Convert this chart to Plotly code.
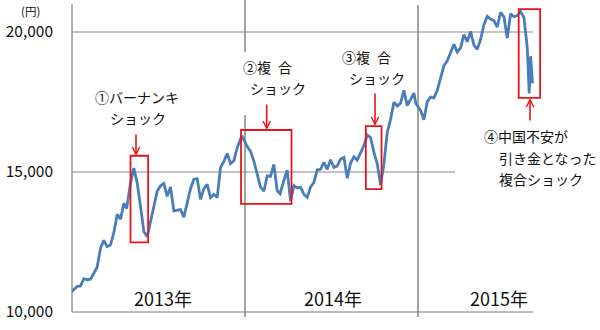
import pandas as pd
import plotly.graph_objects as go

# ---------------- data (weekly closes, yen) ----------------
dates_2013 = ["2013-01-04","2013-01-11","2013-01-18","2013-01-25","2013-02-01","2013-02-08","2013-02-15","2013-02-22",
              "2013-03-01","2013-03-08","2013-03-15","2013-03-22","2013-03-29","2013-04-05","2013-04-12","2013-04-19",
              "2013-04-26","2013-05-02","2013-05-10","2013-05-17","2013-05-24","2013-05-31","2013-06-07","2013-06-14",
              "2013-06-21","2013-06-28","2013-07-05","2013-07-12","2013-07-19","2013-07-26","2013-08-02","2013-08-09",
              "2013-08-16","2013-08-23","2013-08-30","2013-09-06","2013-09-13","2013-09-20","2013-09-27","2013-10-04",
              "2013-10-11","2013-10-18","2013-10-25","2013-11-01","2013-11-08","2013-11-15","2013-11-22","2013-11-29",
              "2013-12-06","2013-12-13","2013-12-20","2013-12-27","2013-12-30"]
close_2013 = [10688, 10801, 10913, 10926, 11191, 11153, 11173, 11385, 11606, 12283, 12560, 12338, 12397,
              12833, 13485, 13316, 13884, 13694, 14607, 15138, 14612, 13774, 12877, 12686, 13230, 13677,
              14309, 14506, 14589, 14129, 14466, 13615, 13650, 13660, 13389, 13861, 14404, 14742, 14760,
              14024, 14404, 14561, 14088, 14201, 14086, 15165, 15381, 15662, 15299, 15403, 15870, 16178, 16291]

dates_2014 = ["2014-01-10","2014-01-17","2014-01-24","2014-01-31","2014-02-07","2014-02-14","2014-02-21","2014-02-28",
              "2014-03-07","2014-03-14","2014-03-20","2014-03-28","2014-04-04","2014-04-11","2014-04-18","2014-04-25",
              "2014-05-02","2014-05-09","2014-05-16","2014-05-23","2014-05-30","2014-06-06","2014-06-13","2014-06-20",
              "2014-06-27","2014-07-04","2014-07-11","2014-07-18","2014-07-25","2014-08-01","2014-08-08","2014-08-15",
              "2014-08-22","2014-08-29","2014-09-05","2014-09-12","2014-09-19","2014-09-26","2014-10-03","2014-10-10",
              "2014-10-17","2014-10-24","2014-10-31","2014-11-07","2014-11-14","2014-11-21","2014-11-28","2014-12-05",
              "2014-12-12","2014-12-19","2014-12-26","2014-12-30"]
close_2014 = [15912, 15734, 15391, 14914, 14462, 14313, 14865, 14841, 15274, 14327, 14224, 14696, 15063,
              13960, 14516, 14429, 14457, 14199, 14097, 14462, 14632, 15077, 15097, 15349, 15095, 15437,
              15164, 15215, 15457, 15523, 14778, 15318, 15539, 15424, 15668, 15948, 16321, 16229, 15708,
              15300, 14532, 15291, 16413, 16880, 17490, 17357, 17459, 17920, 17371, 17621, 17818, 17450]

dates_2015 = ["2015-01-09","2015-01-16","2015-01-23","2015-01-30","2015-02-06","2015-02-13","2015-02-20","2015-02-27",
              "2015-03-06","2015-03-13","2015-03-20","2015-03-27","2015-04-03","2015-04-10","2015-04-17","2015-04-24",
              "2015-05-01","2015-05-08","2015-05-15","2015-05-22","2015-05-29","2015-06-05","2015-06-12","2015-06-19",
              "2015-06-26","2015-07-03","2015-07-10","2015-07-17","2015-07-24","2015-07-31","2015-08-07","2015-08-14",
              "2015-08-21","2015-08-25","2015-08-28","2015-09-01"]
close_2015 = [17197, 16864, 17511, 17674, 17648, 17913, 18332, 18798, 18971, 19254, 19560, 19286, 19435,
              19908, 19653, 20020, 19532, 19379, 19733, 20264, 20563, 20461, 20407, 20174, 20706, 20540,
              19780, 20651, 20545, 20585, 20725, 20519, 19436, 17807, 19136, 18166]

tick_vals = [10000, 15000, 20000]
tick_text = ["10,000", "15,000", "20,000"]
year_labels = ["2013年", "2014年", "2015年"]

dates = pd.to_datetime(dates_2013 + dates_2014 + dates_2015)
close = close_2013 + close_2014 + close_2015

# ---------------- pixel geometry helpers ----------------
W, H = 600, 330
ML = 72
PW = W - ML
ORIGIN = pd.Timestamp("2013-01-04")
ORIGIN_PX = 70.5
PPD = 0.4763          # pixels per day


def px_date(px):
    return ORIGIN + pd.Timedelta(days=(px - ORIGIN_PX) / PPD)


def py_val(py):
    return 20000 - (py - 32) / 28.0 * 1000


def pxp(px):
    return (px - ML) / PW


def pyp(py):
    return 1 - py / H


FONT = "Noto Sans CJK JP"
RED = "#e8141c"
GRID = "#8a8a8a"

fig = go.Figure()
fig.add_trace(go.Scatter(x=dates, y=close, mode="lines",
                         line=dict(color="#4a7ebb", width=2.8), hoverinfo="skip"))

shapes = []
# horizontal grid / axis lines
shapes.append(dict(type="line", xref="paper", yref="y", x0=0, x1=pxp(533), y0=20000, y1=20000,
                   line=dict(color=GRID, width=1.2), layer="below"))
shapes.append(dict(type="line", xref="paper", yref="y", x0=0, x1=pxp(455), y0=15000, y1=15000,
                   line=dict(color=GRID, width=1.2), layer="below"))
shapes.append(dict(type="line", xref="paper", yref="y", x0=0, x1=pxp(533), y0=10000, y1=10000,
                   line=dict(color="#bdbdbd", width=2), layer="below"))
# left axis
shapes.append(dict(type="line", xref="paper", yref="y", x0=0, x1=0, y0=10000, y1=py_val(4),
                   line=dict(color="#7f7f7f", width=1.2), layer="below"))
# year dividers
for seg in [(0, 52), (115, 317)]:
    shapes.append(dict(type="line", xref="paper", yref="y", x0=pxp(245), x1=pxp(245),
                       y0=py_val(seg[0]), y1=py_val(seg[1]), line=dict(color="#6b6b5e", width=1.2), layer="below"))
shapes.append(dict(type="line", xref="paper", yref="y", x0=pxp(418), x1=pxp(418),
                   y0=py_val(5), y1=py_val(317), line=dict(color="#6b6b5e", width=1.2), layer="below"))

# red highlight boxes (date ranges / price ranges)
boxes = [("2013-05-10", "2013-06-16", 12490, 15580),
         ("2013-12-28", "2014-04-13", 13860, 16500),
         ("2014-09-16", "2014-10-19", 14390, 16640),
         ("2015-08-03", "2015-09-17", 17650, 20820)]
for x0, x1, y0, y1 in boxes:
    shapes.append(dict(type="rect", xref="x", yref="y", x0=x0, x1=x1, y0=y0, y1=y1,
                       line=dict(color=RED, width=1.8), fillcolor="rgba(0,0,0,0)"))

annotations = []


def txt(s, px, py, size=14, xanchor="center"):
    annotations.append(dict(text=s, x=pxp(px), y=pyp(py), xref="paper", yref="paper",
                            xanchor=xanchor, yanchor="middle", showarrow=False,
                            font=dict(family=FONT, size=size, color="#111111")))


def arrow(px, py_tail, py_tip):
    annotations.append(dict(text="", x=px_date(px), y=py_val(py_tip), xref="x", yref="y",
                            ax=0, ay=py_tail - py_tip, showarrow=True, arrowhead=5,
                            arrowsize=0.9, arrowwidth=1.6, arrowcolor=RED, standoff=0))


txt("(円)", 30, 11, size=11.5)
txt("①バーナンキ", 137, 97.5)
txt("ショック", 137.5, 118)
txt("②複\u2002合", 267, 67)
txt("ショック", 277.5, 88)
txt("③複\u2002合", 366, 57)
txt("ショック", 377, 77.5)
txt("④中国不安が", 482, 136.5, xanchor="left")
txt("引き金となった", 497, 158, xanchor="left")
txt("複合ショック", 497, 178.5, xanchor="left")

for lab, cx in zip(year_labels, [162.5, 333, 499]):
    txt(lab, cx, 298, size=18)

arrow(136, 133, 156)
arrow(266.7, 103, 130)
arrow(375, 92, 126)
arrow(530, 122, 98)

fig.update_layout(
    width=W, height=H,
    margin=dict(l=ML, r=0, t=0, b=0),
    paper_bgcolor="white", plot_bgcolor="white",
    showlegend=False,
    shapes=shapes, annotations=annotations,
    xaxis=dict(type="date", range=[px_date(ML), px_date(W)], visible=False, fixedrange=True),
    yaxis=dict(range=[py_val(H), py_val(0)], showgrid=False, zeroline=False, showline=False,
               tickvals=tick_vals, ticktext=tick_text, ticks="", ticklabelstandoff=18,
               tickfont=dict(family=FONT, size=15.5, color="#111111"), fixedrange=True),
)

fig.write_html("out.html")
